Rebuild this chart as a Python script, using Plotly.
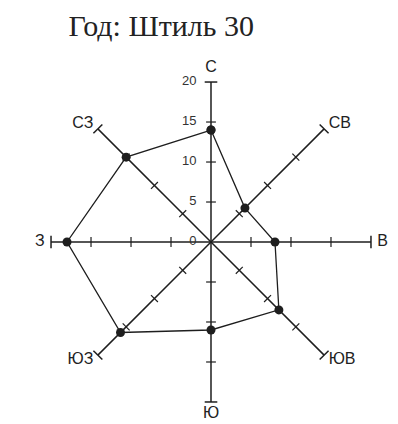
import plotly.graph_objects as go

# направления (румбы) и повторяемость ветра, %
directions = ['С', 'СВ', 'В', 'ЮВ', 'Ю', 'ЮЗ', 'З', 'СЗ']
angles = [0, 45, 90, 135, 180, 225, 270, 315]
frequency = [14, 6, 8, 12, 11, 16, 18, 15]
calm = 30
axis_ticks = [5, 10, 15]
axis_max = 20
scale_labels = [0, 5, 10, 15, 20]
label_pos = ['top center', 'middle right', 'middle right', 'middle right',
             'bottom center', 'middle left', 'middle left', 'middle left']
label_r = [20.8, 20.8, 20.8, 20.8, 20.5, 20.8, 20.8, 20.8]

ink = '#1e1e1e'

fig = go.Figure()

# оси румбов (от центра до 20)
spoke_r, spoke_t = [], []
for a in angles:
    spoke_r += [0, axis_max, None]
    spoke_t += [a, a, None]
fig.add_trace(go.Scatterpolar(
    r=spoke_r, theta=spoke_t, mode='lines',
    line=dict(color=ink, width=1.5),
    hoverinfo='skip', showlegend=False
))

# засечки на осях (перпендикулярно каждой оси)
tick_r, tick_t = [], []
for a in angles:
    for t in axis_ticks:
        tick_r.append(t)
        tick_t.append(a)
fig.add_trace(go.Scatterpolar(
    r=tick_r, theta=tick_t, mode='markers',
    marker=dict(symbol='line-ew', size=7, angle=tick_t,
                line=dict(color=ink, width=1.2)),
    hoverinfo='skip', showlegend=False
))

# концы осей
fig.add_trace(go.Scatterpolar(
    r=[axis_max] * len(angles), theta=angles, mode='markers',
    marker=dict(symbol='line-ew', size=9, angle=angles,
                line=dict(color=ink, width=1.5)),
    hoverinfo='skip', showlegend=False
))

# шкала на северной оси
fig.add_trace(go.Scatterpolar(
    r=scale_labels, theta=[0] * len(scale_labels), mode='text',
    text=[f'{v}    ' for v in scale_labels], textposition='middle left',
    textfont=dict(family='Liberation Sans', size=13, color='#333'),
    hoverinfo='skip', showlegend=False
))

# подписи румбов
fig.add_trace(go.Scatterpolar(
    r=label_r, theta=angles, mode='text',
    text=directions, textposition=label_pos,
    textfont=dict(family='Liberation Sans', size=16, color='#222'),
    hoverinfo='skip', showlegend=False
))

# роза ветров
fig.add_trace(go.Scatterpolar(
    r=frequency + frequency[:1], theta=angles + angles[:1],
    mode='lines+markers',
    line=dict(color=ink, width=1.3),
    marker=dict(color=ink, size=9),
    text=directions + directions[:1],
    hovertemplate='%{text}: %{r}<extra></extra>',
    showlegend=False
))

fig.update_layout(
    width=398, height=424,
    margin=dict(l=0, r=0, t=0, b=0),
    paper_bgcolor='white',
    title=dict(text=f'Год: Штиль {calm}', x=0.385, xanchor='center', y=0.958, yanchor='middle',
               font=dict(family='Liberation Serif', size=30, color='#222')),
    polar=dict(
        domain=dict(x=[0.0477, 0.9724], y=[0.0142, 0.882]),
        bgcolor='white',
        angularaxis=dict(
            rotation=90, direction='clockwise',
            tickmode='array', tickvals=angles, ticktext=directions,
            showline=False, showgrid=False, showticklabels=False, ticks=''
        ),
        radialaxis=dict(
            range=[0, 23], showticklabels=False,
            showgrid=False, showline=False, ticks=''
        )
    )
)

fig.write_html('out.html')
